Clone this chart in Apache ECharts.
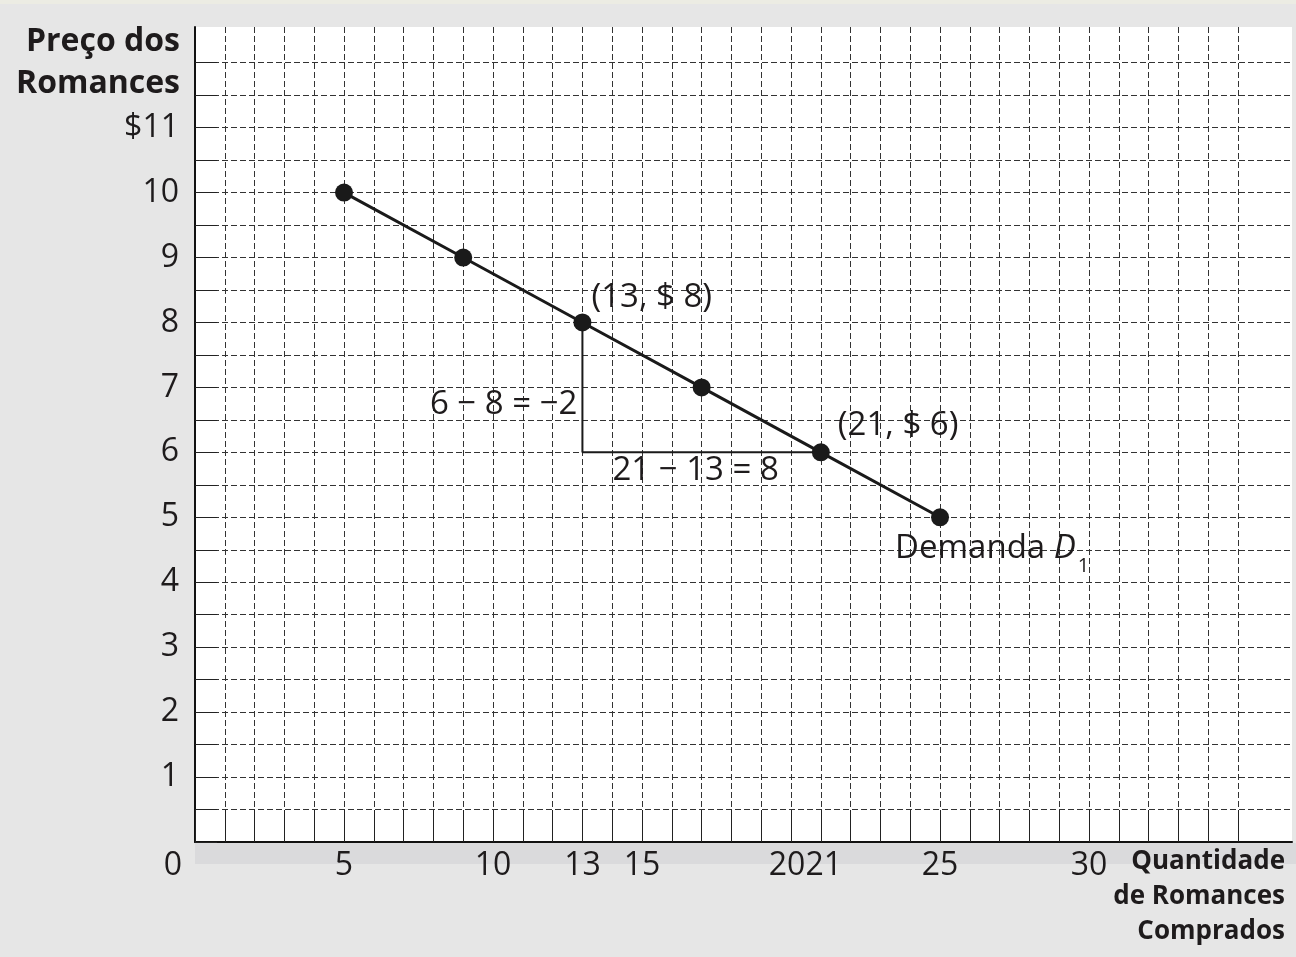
<!DOCTYPE html>
<html><head><meta charset="utf-8">
<script src="https://cdn.jsdelivr.net/npm/echarts@6/dist/echarts.min.js"></script>
<style>html,body{margin:0;padding:0;background:#e6e6e6}#c{width:1296px;height:957px}</style>
</head><body><div id="c"></div>
<script>
// ---- data ----
const quantities = [5, 9, 13, 17, 21, 25];
const prices = [10, 9, 8, 7, 6, 5];
const xTickValues = [0, 5, 10, 13, 15, 20, 21, 25, 30];
const yTickValues = [1, 2, 3, 4, 5, 6, 7, 8, 9, 10, 11];
const yTickLabels = ['1', '2', '3', '4', '5', '6', '7', '8', '9', '10', '$11'];
const riseRunPoints = [[13, 8], [13, 6], [21, 6]];
const annotationTexts = ['(13, $ 8)', '(21, $ 6)', '6 − 8 = −2', '21 − 13 = 8', '{n|Demanda }{it|D}{sub|1}'];
const annotationAnchors = [[13, 8], [21, 6], [13, 7], [17, 6], [25, 5]];
const yAxisTitle = 'Preço dos\nRomances';
const xAxisTitle = 'Quantidade\nde Romances\nComprados';

// ---- styles ----
const FONT = 'Open Sans';
const INK = '#1e1b1c';
const ANN_SIZE = 33;
const annLabelStyles = [
  { align: 'left', verticalAlign: 'middle', offset: [9, -25] },
  { align: 'left', verticalAlign: 'middle', offset: [17, -27] },
  { align: 'right', verticalAlign: 'middle', offset: [-5, 17] },
  { align: 'center', verticalAlign: 'middle', offset: [-6, 18] },
  { align: 'left', verticalAlign: 'middle', offset: [-45, 31] }
];

const chart = echarts.init(document.getElementById('c'), null, { renderer: 'canvas' });

const gridDash = { color: '#333333', width: 1, type: [6, 3] };
const X_MAX = 36.81;
const Y_MAX = 12.55;
const PLOT_TOP = 27, PLOT_BOTTOM = 115;
const unitY = (957 - PLOT_TOP - PLOT_BOTTOM) / Y_MAX;
const Y_GRID_MAX = 12;

const option = {
  backgroundColor: '#e6e6e6',
  animation: false,
  graphic: [
    { type: 'rect', left: 0, top: 0, shape: { width: 1296, height: 4 }, style: { fill: '#ecece3' }, z: -5 },
    { type: 'rect', left: 195, top: 843, shape: { width: 1101, height: 21 }, style: { fill: '#dadadc' }, z: -5 }
  ],
  grid: [
    { left: 195, right: 4, top: PLOT_TOP, bottom: PLOT_BOTTOM, show: true, backgroundColor: '#ffffff', borderWidth: 0, outerBoundsMode: 'none', containLabel: false },
    { left: 195, width: 1043, top: PLOT_TOP, bottom: PLOT_BOTTOM, show: false, outerBoundsMode: 'none', containLabel: false },
    { left: 195, right: 4, top: 957 - PLOT_BOTTOM - Y_GRID_MAX * unitY, bottom: PLOT_BOTTOM, show: false, outerBoundsMode: 'none', containLabel: false }
  ],
  xAxis: [
    {
      type: 'value', gridIndex: 0, min: 0, max: X_MAX,
      axisLine: { show: true, onZero: false, lineStyle: { color: '#111', width: 2 } },
      axisTick: { show: false },
      splitLine: { show: false },
      axisLabel: {
        customValues: xTickValues,
        hideOverlap: false,
        margin: 8,
        color: INK, fontFamily: FONT, fontSize: 32, lineHeight: 32,
        formatter: function (v) {
          if (v === 0) return '{z|0}';
          if (v === 20) return '{l|20}';
          if (v === 21) return '{r|21}';
          return String(v);
        },
        rich: {
          z: { fontFamily: FONT, fontSize: 32, color: INK, padding: [0, 44, 0, 0] },
          l: { fontFamily: FONT, fontSize: 32, color: INK, padding: [0, 8, 0, 0] },
          r: { fontFamily: FONT, fontSize: 32, color: INK, padding: [0, 0, 0, 6] }
        }
      },
      name: xAxisTitle,
      nameLocation: 'end',
      nameGap: 0,
      nameMoveOverlap: false,
      nameTextStyle: { fontFamily: FONT, fontWeight: 'bold', fontSize: 26, lineHeight: 35, color: INK, align: 'right', verticalAlign: 'top', padding: [2, 7, 0, 0] }
    },
    {
      type: 'value', gridIndex: 1, min: 0, max: 35, interval: 1,
      axisLine: { show: false },
      axisTick: { show: true, inside: true, length: 32, lineStyle: { color: '#222', width: 1 } },
      axisLabel: { show: false },
      splitLine: { show: true, lineStyle: gridDash }
    },
    {
      type: 'value', gridIndex: 2, min: 0, max: X_MAX, show: false, splitLine: { show: false }
    }
  ],
  yAxis: [
    {
      type: 'value', gridIndex: 0, min: 0, max: Y_MAX,
      axisLine: { show: true, onZero: false, lineStyle: { color: '#111', width: 2 } },
      axisTick: { show: false },
      splitLine: { show: false },
      axisLabel: {
        customValues: yTickValues,
        hideOverlap: false,
        margin: 16,
        color: INK, fontFamily: FONT, fontSize: 32,
        formatter: function (v) { return yTickLabels[yTickValues.indexOf(v)]; }
      },
      name: yAxisTitle,
      nameLocation: 'end',
      nameGap: 6,
      nameMoveOverlap: false,
      nameTextStyle: { fontFamily: FONT, fontWeight: 'bold', fontSize: 32, lineHeight: 42, color: INK, align: 'right', verticalAlign: 'top', padding: [0, 15, 0, 0] }
    },
    {
      type: 'value', gridIndex: 1, min: 0, max: Y_MAX,
      show: false, splitLine: { show: false }
    },
    {
      type: 'value', gridIndex: 2, min: 0, max: Y_GRID_MAX, interval: 0.5,
      axisLine: { show: false },
      axisTick: { show: true, inside: true, length: 22, lineStyle: { color: '#222', width: 1 } },
      axisLabel: { show: false },
      splitLine: { show: true, lineStyle: gridDash }
    }
  ],
  series: [
    {
      type: 'line', name: 'Demanda D1', xAxisIndex: 0, yAxisIndex: 0,
      data: quantities.map((q, i) => [q, prices[i]]),
      symbol: 'circle', symbolSize: 18,
      lineStyle: { color: '#1a1a1a', width: 3 },
      itemStyle: { color: '#1a1a1a' },
      z: 5
    },
    {
      type: 'line', name: 'rise-run', xAxisIndex: 0, yAxisIndex: 0,
      data: riseRunPoints,
      symbol: 'none',
      lineStyle: { color: '#1a1a1a', width: 2 },
      z: 4
    },
    {
      type: 'scatter', name: 'annotations', xAxisIndex: 0, yAxisIndex: 0,
      symbolSize: 0, silent: true,
      itemStyle: { color: INK },
      data: annotationAnchors.map((a, i) => ({
        value: a,
        label: Object.assign({
          show: true, position: 'inside',
          formatter: annotationTexts[i],
          color: INK, fontFamily: FONT, fontSize: ANN_SIZE,
          textBorderWidth: 0, textBorderColor: 'transparent', opacity: 1,
          rich: {
            n: { fontFamily: FONT, fontSize: ANN_SIZE, color: INK, lineHeight: 56, textBorderWidth: 0 },
            it: { fontFamily: FONT, fontSize: ANN_SIZE, fontStyle: 'italic', color: INK, lineHeight: 56, textBorderWidth: 0 },
            sub: { fontFamily: FONT, fontSize: 20, color: INK, lineHeight: 20, verticalAlign: 'bottom', padding: [0, 0, 0, 2], textBorderWidth: 0 }
          }
        }, annLabelStyles[i])
      })),
      z: 6
    }
  ]
};
chart.setOption(option);
</script>
</body></html>
